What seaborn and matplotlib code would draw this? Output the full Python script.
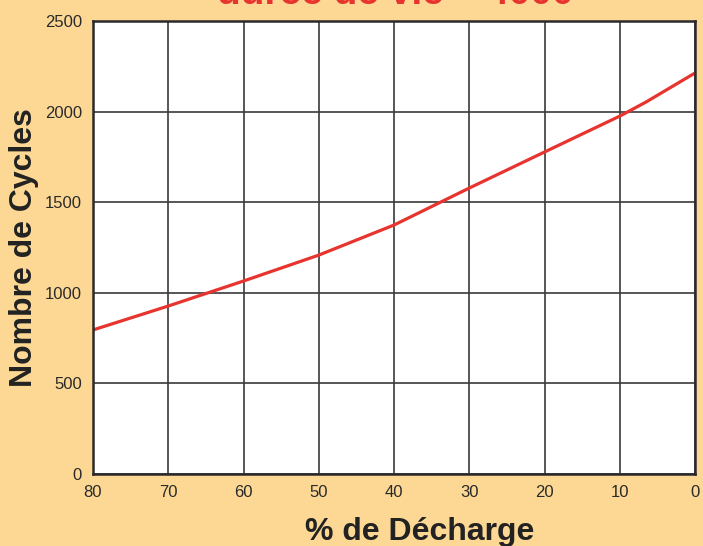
import pandas as pd
import matplotlib.pyplot as plt
import seaborn as sns

# Depth of discharge (%) vs number of cycles
decharge = [80, 70, 60, 50, 40, 30, 20, 10, 6.5, 0]
cycles = [795, 927, 1065, 1208, 1374, 1578, 1777, 1975, 2053, 2213]
x_ticks = [80, 70, 60, 50, 40, 30, 20, 10, 0]
y_ticks = [0, 500, 1000, 1500, 2000, 2500]

df = pd.DataFrame({"Decharge": decharge, "Cycles": cycles})

bg = "#FDD895"
sns.set_style("white")
plt.rcParams['font.family'] = ['Liberation Sans', 'DejaVu Sans']

fig = plt.figure(figsize=(7.03, 5.46), dpi=100, facecolor=bg)
ax = fig.add_axes([93 / 703, 1 - 474 / 546, (695 - 93) / 703, (474 - 21) / 546])
ax.set_facecolor("white")

sns.lineplot(data=df, x="Decharge", y="Cycles", ax=ax, color="#E8342E", linewidth=2.3)

ax.set_xlim(80, 0)
ax.set_ylim(0, 2500)
ax.set_xticks(x_ticks)
ax.set_yticks(y_ticks)
ax.grid(True, color="#3a3a3a", linewidth=1.2)
ax.set_axisbelow(True)
for s in ax.spines.values():
    s.set_color("#2a2a2a")
    s.set_linewidth(1.8)
ax.tick_params(length=0, labelsize=12, labelcolor="#2a2a2a", pad=8)

ax.set_xlabel("")
fig.text(420 / 703, 1 - 540 / 546, "% de Décharge", fontsize=23, fontweight="bold",
         color="#222222", ha="center", va="baseline")
ax.set_ylabel("Nombre de Cycles", fontsize=23, fontweight="bold", color="#222222", labelpad=4)

# title runs off the top edge, as in the reference
fig.text(395 / 703, 1 - 4 / 546, "durée de vie – 4000", color="#E8342E", fontsize=28,
         fontweight="bold", ha="center", va="baseline")

fig.savefig("out.png", dpi=100, facecolor=bg)
